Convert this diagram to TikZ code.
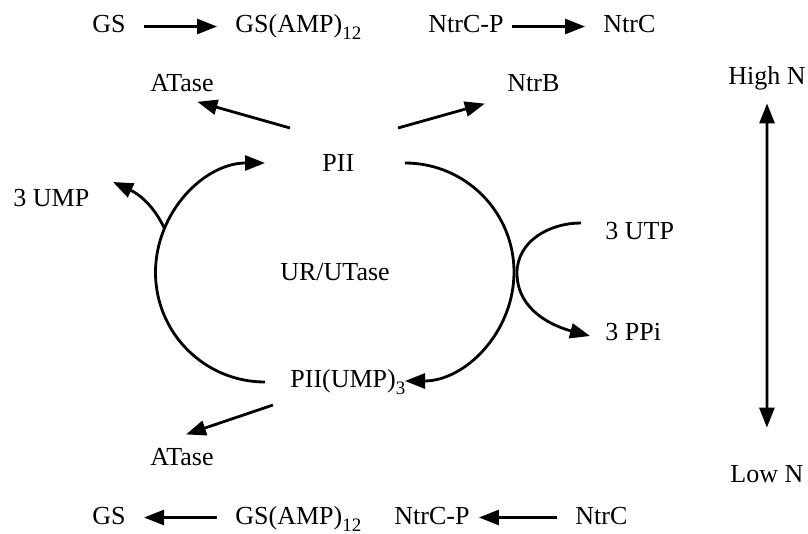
\documentclass[tikz,border=0pt]{standalone}
\usepackage{fontspec}
\setmainfont{Liberation Serif}
\usetikzlibrary{arrows.meta}

\newcommand{\lowsub}[1]{\raisebox{-3.5pt}{\fontsize{9.5}{10}\selectfont #1}}

\begin{document}
\begin{tikzpicture}[x=0.5pt,y=0.5pt,
        txt/.style={inner sep=0pt,text height=9pt,text depth=2.5pt,font=\fontsize{13}{15}\selectfont},
        arr/.style={line width=1.4pt,-{Triangle[length=10pt,width=7.5pt]}},
        gap/.style={shorten <=9pt,shorten >=9pt}]
    \useasboundingbox (0,0) rectangle (808,-534);

    \node [txt,anchor=west] (gs1) at (92,-26.5) {GS};
    \node [txt,anchor=west] (gsamp1) at (235,-26.5) {GS(AMP)\lowsub{12}};
    \node [txt,anchor=west] (ntrcp1) at (428,-26.5) {NtrC-P};
    \node [txt,anchor=west] (ntrc1) at (603,-26.5) {NtrC};
    \draw [arr,gap] (gs1) -- (gsamp1);
    \draw [arr,shorten <=4pt,shorten >=9pt] (ntrcp1) -- (ntrc1);

    \node [txt,anchor=west] (atase1) at (150,-85.5) {ATase};
    \node [txt,anchor=west] (ntrb) at (507,-85.5) {NtrB};
    \node [txt,anchor=west] (pii) at (322,-165.5) {PII};
    \node [txt,anchor=west] (ump) at (13,-200.5) {3 UMP};
    \node [txt] (urut) at (335,-274) {UR/UTase};
    \node [txt,anchor=west] (utp) at (605,-233.5) {3 UTP};
    \node [txt,anchor=west] (ppi) at (605,-333.5) {3 PPi};
    \node [txt,anchor=west] (piiump) at (290,-380.5) {PII(UMP)\lowsub{3}};
    \node [txt,anchor=west] (atase2) at (150,-458.5) {ATase};

    \coordinate (t1) at (290,-128);
    \coordinate (t2) at (398,-128);
    \coordinate (t3) at (273,-405);
    \draw [arr,shorten >=8pt] (t1) -- (atase1.south);
    \draw [arr,shorten >=11.5pt] (t2) -- (ntrb.south west);
    \draw [arr,shorten >=19pt] (t3) -- (atase2.north west);

    % the cycle
    \coordinate (c1) at (265,-382);
    \coordinate (c2) at (405,-163);
    \draw [arr] (c1) arc [start angle=-90,end angle=-270,radius=109.5];
    \draw [arr] (c2) arc [start angle=90,end angle=-90,radius=109];

    \coordinate (b1) at (164.6,-228.8);
    \coordinate (b2) at (113,-182);
    \draw [arr] (b1) to [out=115,in=-25] (b2);

    \coordinate (u1) at (581,-223);
    \coordinate (u2) at (517,-273);
    \coordinate (u3) at (590,-336);
    \draw [arr] (u1) to [out=180,in=90] (u2) to [out=-90,in=165] (u3);

    \node [txt,anchor=west] (highn) at (728,-78.5) {High N};
    \node [txt,anchor=west] (lown) at (730,-475.5) {Low N};
    \draw [line width=1.4pt,{Triangle[length=10pt,width=7.5pt]}-{Triangle[length=10pt,width=7.5pt]},shorten <=6.5pt,shorten >=18pt] (highn) -- (lown);

    \node [txt,anchor=west] (gs2) at (92,-517.5) {GS};
    \node [txt,anchor=west] (gsamp2) at (235,-517.5) {GS(AMP)\lowsub{12}};
    \node [txt,anchor=west] (ntrcp2) at (394,-517.5) {NtrC-P};
    \node [txt,anchor=west] (ntrc2) at (575,-517.5) {NtrC};
    \draw [arr,gap] (gsamp2) -- (gs2);
    \draw [arr,shorten <=9pt,shorten >=4.5pt] (ntrc2) -- (ntrcp2);
\end{tikzpicture}
\end{document}
